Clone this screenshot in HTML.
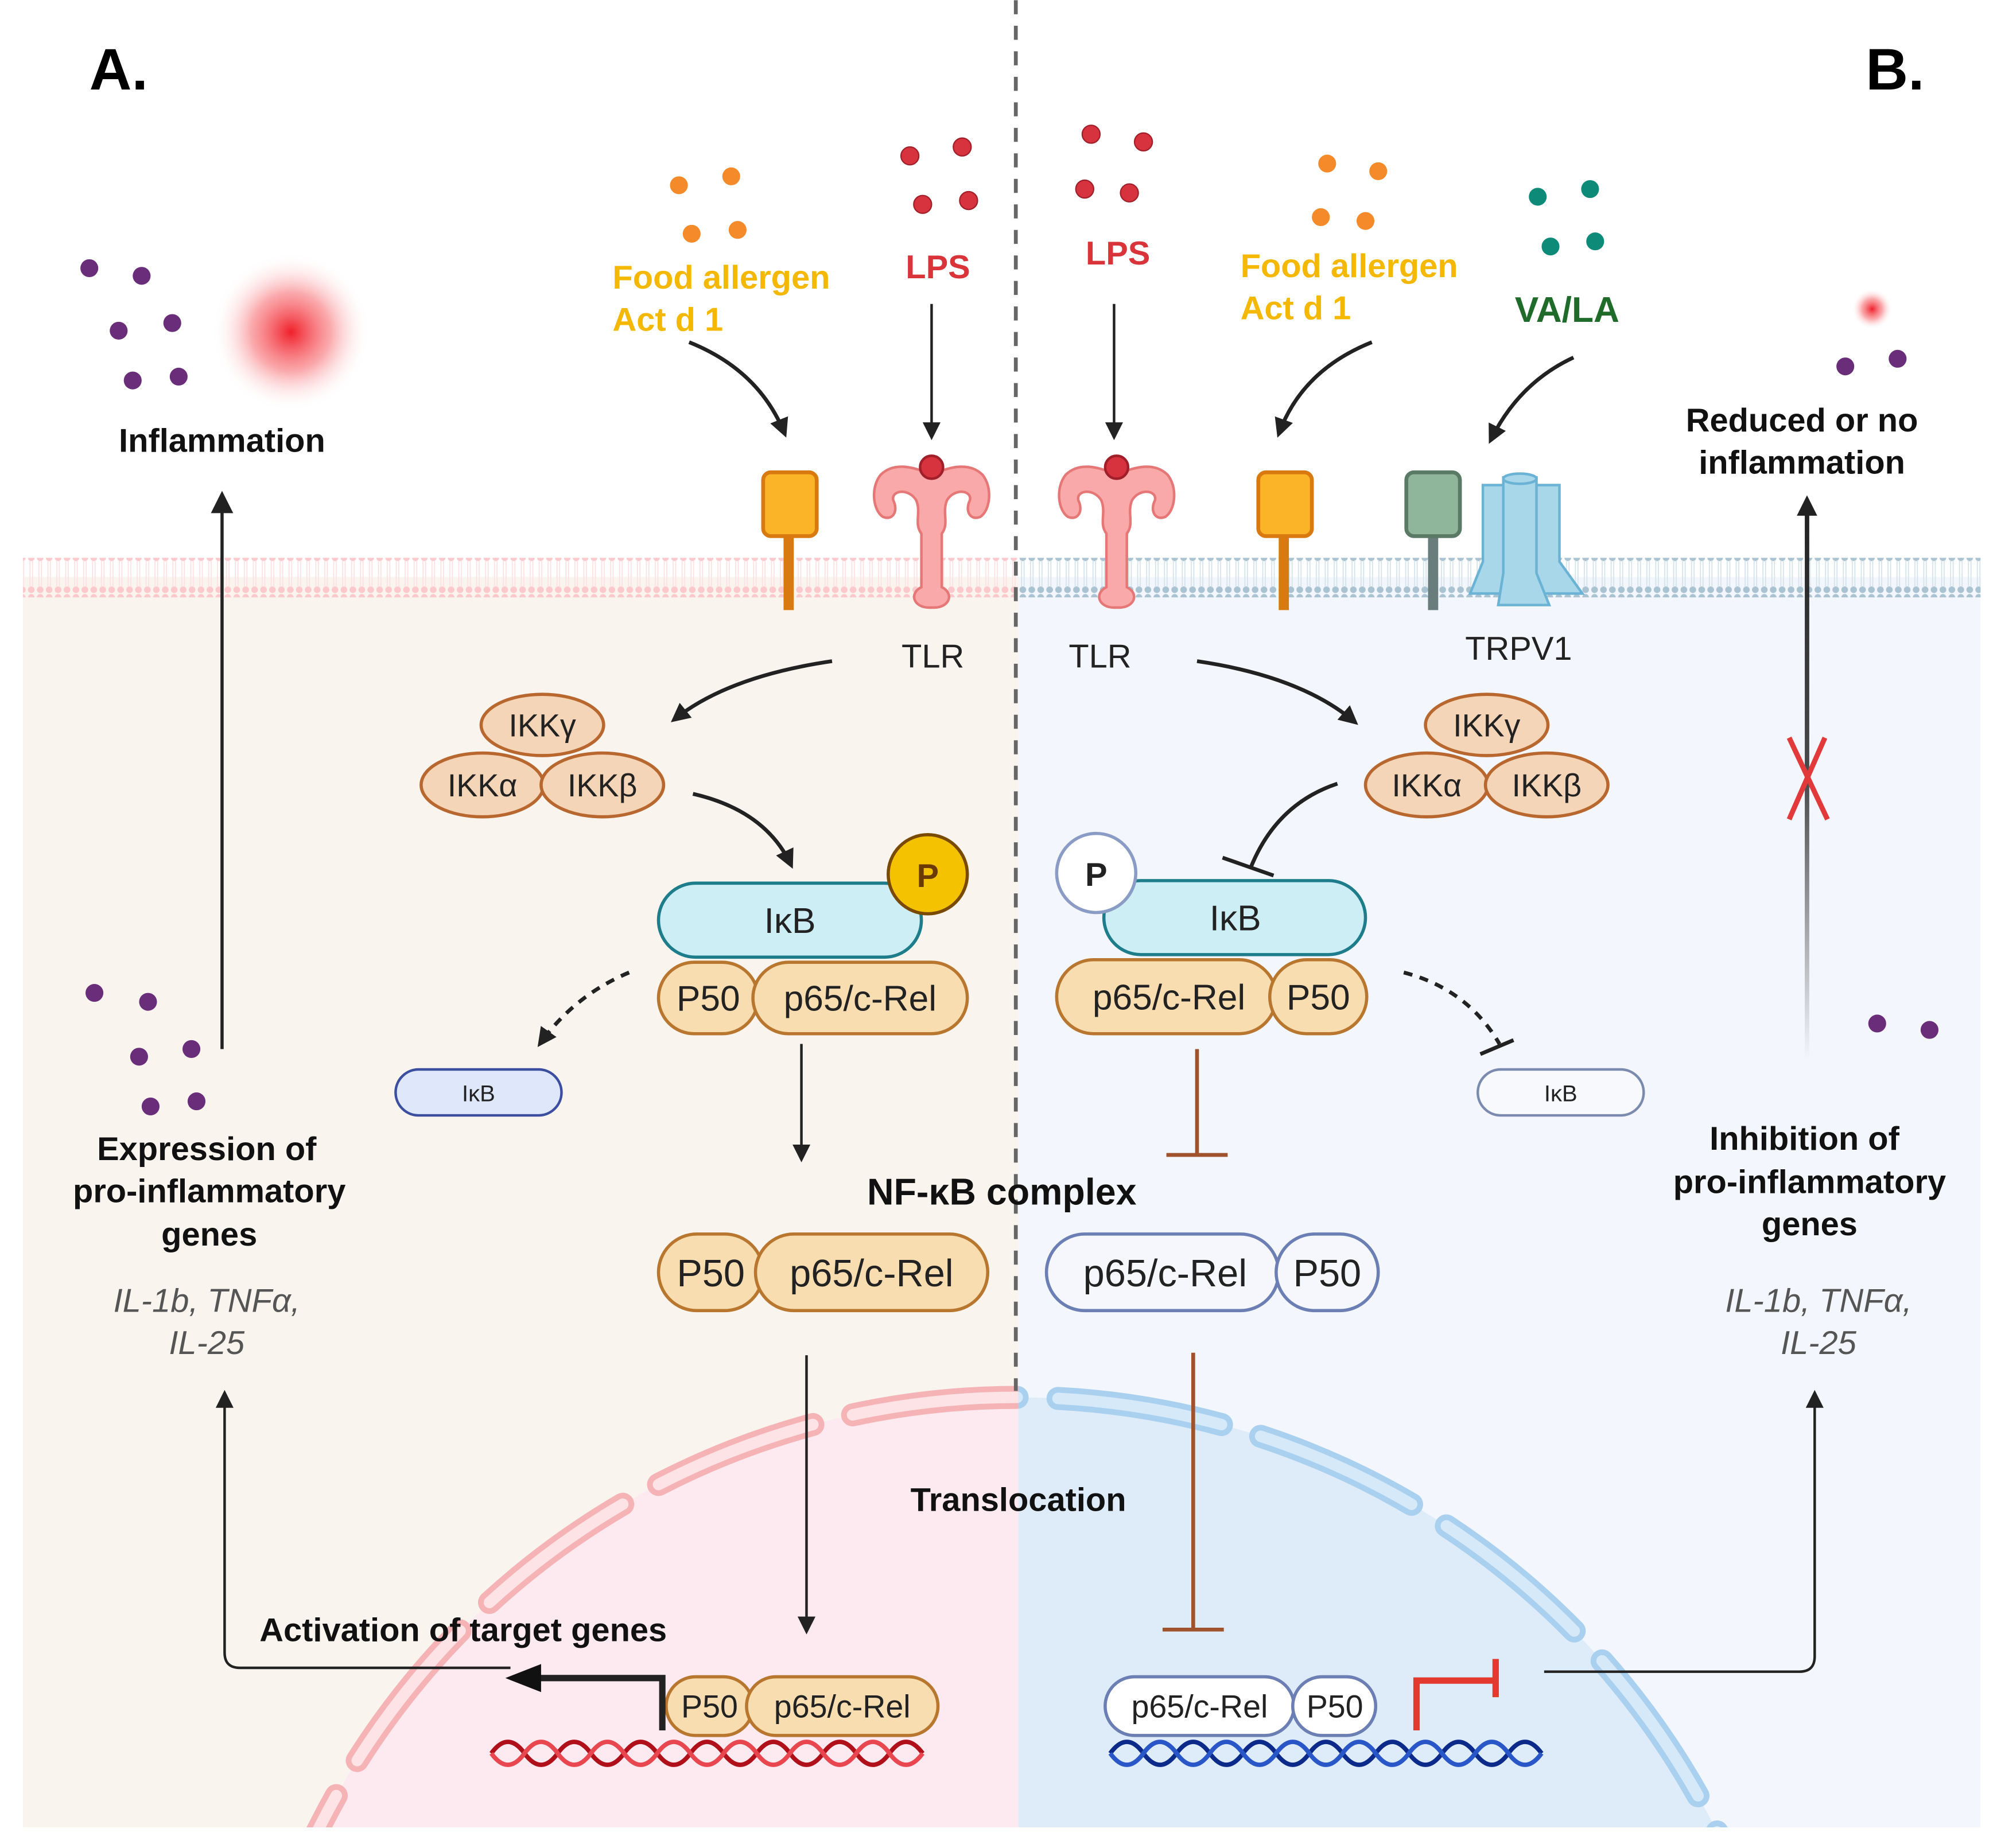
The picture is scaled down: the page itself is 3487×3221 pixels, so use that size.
<!DOCTYPE html>
<html><head><meta charset="utf-8"><style>
html,body{margin:0;padding:0;background:#fff;width:3487px;height:3221px;overflow:hidden}
svg{display:block}
text{font-family:"Liberation Sans",sans-serif}
.b{font-weight:bold}
</style></head><body>
<svg width="3487" height="3221" viewBox="0 0 1568 1448" xmlns="http://www.w3.org/2000/svg">
<defs>
<radialGradient id="glow"><stop offset="0" stop-color="#f0202a"/><stop offset="0.5" stop-color="#f77075" stop-opacity="0.6"/><stop offset="1" stop-color="#fff" stop-opacity="0"/></radialGradient>
<linearGradient id="fade" gradientUnits="userSpaceOnUse" x1="0" y1="830" x2="0" y2="400"><stop offset="0" stop-color="#222" stop-opacity="0"/><stop offset="0.5" stop-color="#222" stop-opacity="0.8"/><stop offset="1" stop-color="#222"/></linearGradient>
<marker id="ah" viewBox="0 0 10 10" refX="8" refY="5" markerWidth="5" markerHeight="5" orient="auto"><path d="M0,0 L10,5 L0,10 z" fill="#222"/></marker>
<marker id="ahs" viewBox="0 0 10 10" refX="8" refY="5" markerWidth="7" markerHeight="7" orient="auto-start-reverse"><path d="M0,0 L10,5 L0,10 z" fill="#222"/></marker>
<pattern id="memL" width="7" height="31" patternUnits="userSpaceOnUse"><circle cx="3.5" cy="3" r="2.6" fill="#fbc9cc"/><circle cx="3.5" cy="28" r="2.6" fill="#fbc9cc"/><line x1="2.5" y1="5" x2="2.5" y2="26" stroke="#fde0e2" stroke-width="0.8"/><line x1="4.5" y1="5" x2="4.5" y2="26" stroke="#fde0e2" stroke-width="0.8"/></pattern>
<pattern id="memR" width="7" height="31" patternUnits="userSpaceOnUse"><circle cx="3.5" cy="3" r="2.6" fill="#a9c3d2"/><circle cx="3.5" cy="28" r="2.6" fill="#a9c3d2"/><line x1="2.5" y1="5" x2="2.5" y2="26" stroke="#d4e2ea" stroke-width="0.8"/><line x1="4.5" y1="5" x2="4.5" y2="26" stroke="#d4e2ea" stroke-width="0.8"/></pattern>
<clipPath id="cell"><rect x="18" y="437" width="1534" height="995"/></clipPath>
<clipPath id="lh"><rect x="0" y="0" width="798" height="1432"/></clipPath>
<clipPath id="rh"><rect x="798" y="0" width="800" height="1432"/></clipPath>
</defs>

<rect x="18" y="452" width="780" height="980" fill="#faf4ee"/>
<rect x="798" y="452" width="754" height="980" fill="#f3f6fc"/>
<rect x="18" y="437" width="780" height="31" fill="url(#memL)"/>
<rect x="798" y="437" width="754" height="31" fill="url(#memR)"/>

<g clip-path="url(#cell)">
<g clip-path="url(#lh)">
<circle cx="797" cy="1707" r="612" fill="#fdeaf0"/>
<circle cx="797" cy="1707" r="612" fill="none" stroke="#f5b3b6" stroke-width="18" stroke-dasharray="130 32" stroke-linecap="round"/>
<circle cx="797" cy="1707" r="612" fill="none" stroke="#fde3e5" stroke-width="9" stroke-dasharray="130 32" stroke-linecap="round"/>
</g>
<g clip-path="url(#rh)">
<circle cx="797" cy="1707" r="612" fill="#deebf8"/>
<circle cx="797" cy="1707" r="612" fill="none" stroke="#a9d0ef" stroke-width="18" stroke-dasharray="130 32" stroke-linecap="round"/>
<circle cx="797" cy="1707" r="612" fill="none" stroke="#d6e9f8" stroke-width="9" stroke-dasharray="130 32" stroke-linecap="round"/>
</g>
</g>

<line x1="796" y1="0" x2="796" y2="1090" stroke="#666" stroke-width="3" stroke-dasharray="11 9"/>

<text x="70" y="70" class="b" font-size="46">A.</text>
<text x="1462" y="70" class="b" font-size="46">B.</text>

<circle cx="228" cy="260" r="62" fill="url(#glow)"/>
<circle cx="1467" cy="242" r="16" fill="url(#glow)"/>

<g fill="#f58a2a"><circle cx="532" cy="145" r="7"/><circle cx="573" cy="138" r="7"/><circle cx="542" cy="183" r="7"/><circle cx="578" cy="180" r="7"/>
<circle cx="1040" cy="128" r="7"/><circle cx="1080" cy="134" r="7"/><circle cx="1035" cy="170" r="7"/><circle cx="1070" cy="173" r="7"/></g>
<g fill="#d6333f" stroke="#a11f28" stroke-width="1"><circle cx="713" cy="122" r="7"/><circle cx="754" cy="115" r="7"/><circle cx="723" cy="160" r="7"/><circle cx="759" cy="157" r="7"/>
<circle cx="855" cy="105" r="7"/><circle cx="896" cy="111" r="7"/><circle cx="850" cy="148" r="7"/><circle cx="885" cy="151" r="7"/></g>
<g fill="#0e8a78"><circle cx="1205" cy="154" r="7"/><circle cx="1246" cy="148" r="7"/><circle cx="1215" cy="193" r="7"/><circle cx="1250" cy="189" r="7"/></g>
<g fill="#6a2d7a"><circle cx="70" cy="210" r="7"/><circle cx="111" cy="216" r="7"/><circle cx="93" cy="259" r="7"/><circle cx="135" cy="253" r="7"/><circle cx="104" cy="298" r="7"/><circle cx="140" cy="295" r="7"/>
<circle cx="74" cy="778" r="7"/><circle cx="116" cy="785" r="7"/><circle cx="109" cy="828" r="7"/><circle cx="150" cy="822" r="7"/><circle cx="118" cy="867" r="7"/><circle cx="154" cy="863" r="7"/>
<circle cx="1446" cy="287" r="7"/><circle cx="1487" cy="281" r="7"/><circle cx="1471" cy="802" r="7"/><circle cx="1512" cy="807" r="7"/></g>

<g class="b" font-size="26">
<text x="480" y="226" fill="#f5b800">Food allergen</text><text x="480" y="259" fill="#f5b800">Act d 1</text>
<text x="735" y="218" fill="#d9343a" text-anchor="middle">LPS</text>
<text x="876" y="207" fill="#d9343a" text-anchor="middle">LPS</text>
<text x="972" y="217" fill="#f5b800">Food allergen</text><text x="972" y="250" fill="#f5b800">Act d 1</text>
<text x="1228" y="252" fill="#1f6b2a" text-anchor="middle" font-size="28">VA/LA</text>
<text x="174" y="354" fill="#111" text-anchor="middle">Inflammation</text>
<text x="1412" y="338" fill="#111" text-anchor="middle">Reduced or no</text>
<text x="1412" y="371" fill="#111" text-anchor="middle">inflammation</text>
<text x="162" y="909" fill="#111" text-anchor="middle">Expression of</text>
<text x="164" y="942" fill="#111" text-anchor="middle">pro-inflammatory</text>
<text x="164" y="976" fill="#111" text-anchor="middle">genes</text>
<text x="1414" y="901" fill="#111" text-anchor="middle">Inhibition of</text>
<text x="1418" y="935" fill="#111" text-anchor="middle">pro-inflammatory</text>
<text x="1418" y="968" fill="#111" text-anchor="middle">genes</text>
<text x="785" y="944" fill="#111" text-anchor="middle" font-size="29">NF-κB complex</text>
<text x="798" y="1184" fill="#111" text-anchor="middle">Translocation</text>
<text x="363" y="1286" fill="#111" text-anchor="middle">Activation of target genes</text>
</g>
<g font-size="26" fill="#555" font-style="italic" text-anchor="middle">
<text x="162" y="1028">IL-1b, TNFα,</text><text x="162" y="1061">IL-25</text>
<text x="1425" y="1028">IL-1b, TNFα,</text><text x="1425" y="1061">IL-25</text>
</g>
<g font-size="26" fill="#222" text-anchor="middle">
<text x="731" y="523">TLR</text><text x="862" y="523">TLR</text><text x="1190" y="517">TRPV1</text>
</g>

<g>
<line x1="618" y1="418" x2="618" y2="478" stroke="#d97a10" stroke-width="8"/>
<rect x="598" y="370" width="42" height="50" rx="6" fill="#fbb328" stroke="#d97a10" stroke-width="3"/>
<line x1="1006" y1="418" x2="1006" y2="478" stroke="#d97a10" stroke-width="8"/>
<rect x="986" y="370" width="42" height="50" rx="6" fill="#fbb328" stroke="#d97a10" stroke-width="3"/>
<line x1="1123" y1="418" x2="1123" y2="478" stroke="#6a7d7d" stroke-width="8"/>
<rect x="1102" y="370" width="42" height="50" rx="6" fill="#8fb59a" stroke="#5a7a66" stroke-width="3"/>
</g>
<g id="tlr" fill="#f9a9a9" stroke="#e57777" stroke-width="2">
<path d="M730,372 C715,365 700,362 690,372 C682,382 684,400 692,405 C700,408 704,400 700,392 C698,384 712,382 718,392 C722,402 716,410 722,418 L722,460 C712,465 716,476 728,476 L732,476 C744,476 748,465 738,460 L738,418 C744,410 738,402 742,392 C748,382 762,384 760,392 C756,400 760,408 768,405 C776,400 778,382 770,372 C760,362 745,365 730,372 z"/>
<circle cx="730" cy="366" r="9" fill="#d6333f" stroke="#a11f28"/>
</g>
<use href="#tlr" x="145"/>
<g fill="#a9d7ea" stroke="#6bb3d4" stroke-width="2">
<path d="M1162,380 h22 v60 l18,25 h-50 l10,-25 z"/>
<path d="M1200,380 h22 v60 l18,25 h-40 l0,-25 z"/>
<path d="M1178,374 h26 v75 l10,25 h-40 l4,-25 z"/>
<ellipse cx="1191" cy="375" rx="13" ry="4"/>
</g>

<g fill="#f5d5b8" stroke="#b8672e" stroke-width="2.5">
<ellipse cx="425" cy="568" rx="48" ry="24"/>
<ellipse cx="378" cy="615" rx="48" ry="25"/>
<ellipse cx="472" cy="615" rx="48" ry="25"/>
<ellipse cx="1165" cy="568" rx="48" ry="24"/>
<ellipse cx="1118" cy="615" rx="48" ry="25"/>
<ellipse cx="1212" cy="615" rx="48" ry="25"/>
</g>
<g font-size="25" fill="#222" text-anchor="middle">
<text x="425" y="577">IKKγ</text><text x="378" y="624">IKKα</text><text x="472" y="624">IKKβ</text>
<text x="1165" y="577">IKKγ</text><text x="1118" y="624">IKKα</text><text x="1212" y="624">IKKβ</text>
</g>

<g stroke-width="2.5">
<rect x="516" y="692" width="206" height="58" rx="29" fill="#cdeef5" stroke="#1e7d8a"/>
<circle cx="727" cy="685" r="31" fill="#f5c200" stroke="#7a4a00"/>
<rect x="865" y="690" width="205" height="58" rx="29" fill="#cdeef5" stroke="#1e7d8a"/>
<circle cx="859" cy="684" r="31" fill="#fff" stroke="#8a9cc5"/>
<rect x="516" y="754" width="78" height="56" rx="28" fill="#f8ddb0" stroke="#b8762e"/>
<rect x="590" y="754" width="168" height="56" rx="28" fill="#f8ddb0" stroke="#b8762e"/>
<rect x="828" y="752" width="172" height="58" rx="29" fill="#f8ddb0" stroke="#b8762e"/>
<rect x="995" y="752" width="76" height="58" rx="29" fill="#f8ddb0" stroke="#b8762e"/>
<rect x="310" y="838" width="130" height="36" rx="18" fill="#dfe8fb" stroke="#3b4ea0" stroke-width="2"/>
<rect x="1158" y="838" width="130" height="36" rx="18" fill="#f7f9fd" stroke="#7b8bb0" stroke-width="2"/>
<rect x="516" y="967" width="82" height="60" rx="30" fill="#f8ddb0" stroke="#b8762e"/>
<rect x="592" y="967" width="182" height="60" rx="30" fill="#f8ddb0" stroke="#b8762e"/>
<rect x="820" y="967" width="182" height="60" rx="30" fill="#f5f7fc" stroke="#6b7fb5"/>
<rect x="1000" y="967" width="80" height="60" rx="30" fill="#f5f7fc" stroke="#6b7fb5"/>
<rect x="522" y="1314" width="68" height="46" rx="23" fill="#f8ddb0" stroke="#b8762e"/>
<rect x="585" y="1314" width="150" height="46" rx="23" fill="#f8ddb0" stroke="#b8762e"/>
<rect x="866" y="1314" width="148" height="46" rx="23" fill="#fff" stroke="#6b7fb5"/>
<rect x="1013" y="1314" width="65" height="46" rx="23" fill="#fff" stroke="#6b7fb5"/>
</g>
<g fill="#222" text-anchor="middle" font-size="28">
<text x="619" y="731">IκB</text><text x="968" y="729">IκB</text>
<text x="727" y="695" class="b" font-size="26" fill="#6a3a00">P</text>
<text x="859" y="694" class="b" font-size="26">P</text>
<text x="555" y="792">P50</text><text x="674" y="792">p65/c-Rel</text>
<text x="916" y="791">p65/c-Rel</text><text x="1033" y="791">P50</text>
<text x="375" y="863" font-size="18">IκB</text><text x="1223" y="863" font-size="18">IκB</text>
<text x="557" y="1008" font-size="30">P50</text><text x="683" y="1008" font-size="30">p65/c-Rel</text>
<text x="913" y="1008" font-size="30">p65/c-Rel</text><text x="1040" y="1008" font-size="30">P50</text>
<text x="556" y="1346" font-size="25">P50</text><text x="660" y="1346" font-size="25">p65/c-Rel</text>
<text x="940" y="1346" font-size="25">p65/c-Rel</text><text x="1046" y="1346" font-size="25">P50</text>
</g>

<g fill="none" stroke-width="3.5">
<path d="M385,1374 q13,-18 26,0 t26,0 t26,0 t26,0 t26,0 t26,0 t26,0 t26,0 t26,0 t26,0 t26,0 t26,0 t26,0" stroke="#b0101a"/>
<path d="M385,1374 q13,18 26,0 t26,0 t26,0 t26,0 t26,0 t26,0 t26,0 t26,0 t26,0 t26,0 t26,0 t26,0 t26,0" stroke="#e8474f"/>
<path d="M870,1374 q13,-18 26,0 t26,0 t26,0 t26,0 t26,0 t26,0 t26,0 t26,0 t26,0 t26,0 t26,0 t26,0 t26,0" stroke="#0b2a8a"/>
<path d="M870,1374 q13,18 26,0 t26,0 t26,0 t26,0 t26,0 t26,0 t26,0 t26,0 t26,0 t26,0 t26,0 t26,0 t26,0" stroke="#2a57c8"/>
</g>

<g fill="none" stroke="#222" stroke-width="3">
<path d="M540,268 Q595,290 615,340" marker-end="url(#ah)"/>
<path d="M730,238 V342" stroke-width="2" marker-end="url(#ahs)"/>
<path d="M873,238 V342" stroke-width="2" marker-end="url(#ahs)"/>
<path d="M1075,268 Q1020,290 1002,340" marker-end="url(#ah)"/>
<path d="M1233,280 Q1190,300 1168,345" marker-end="url(#ah)"/>
<path d="M652,518 Q570,530 528,564" marker-end="url(#ah)"/>
<path d="M938,518 Q1020,530 1062,566" marker-end="url(#ah)"/>
<path d="M543,622 Q600,635 620,678" marker-end="url(#ah)"/>
<path d="M1048,614 Q1000,630 980,680"/>
<path d="M958,672 L998,686"/>
<path d="M493,762 Q450,780 423,818" stroke-dasharray="7 6" marker-end="url(#ah)"/>
<path d="M1100,762 Q1150,775 1175,818" stroke-dasharray="7 6"/>
<path d="M1160,826 L1186,815"/>
<path d="M628,818 V908" stroke-width="2" marker-end="url(#ahs)"/>
<path d="M632,1062 V1278" stroke-width="2" marker-end="url(#ahs)"/>
<path d="M174,822 V388" stroke-width="2.5" marker-end="url(#ahs)"/>
<path d="M176,1092 V1295 Q176,1307 188,1307 H400" stroke-width="2" marker-start="url(#ahs)"/>
<path d="M1210,1310 H1410 Q1422,1310 1422,1298 V1092" stroke-width="2" marker-end="url(#ahs)"/>
<path d="M519,1356 V1315 H420" stroke-width="5"/>
</g>
<path d="M396,1315 L424,1304 L424,1326 z" fill="#111"/>
<path d="M1416,830 V400" stroke="url(#fade)" stroke-width="3.5" fill="none"/>
<path d="M1416,388 l-8,16 h16 z" fill="#222"/>
<g stroke="#e23a3a" stroke-width="4" fill="none">
<path d="M1402,578 L1432,642 M1430,578 L1402,642"/>
</g>
<g stroke="#a0522d" stroke-width="3" fill="none">
<path d="M938,822 V905 M914,905 H962"/>
<path d="M935,1060 V1277 M911,1277 H959"/>
</g>
<g stroke="#e23a2e" stroke-width="5" fill="none">
<path d="M1110,1356 V1317 H1172 M1172,1300 V1330"/>
</g>
</svg>
</body></html>
